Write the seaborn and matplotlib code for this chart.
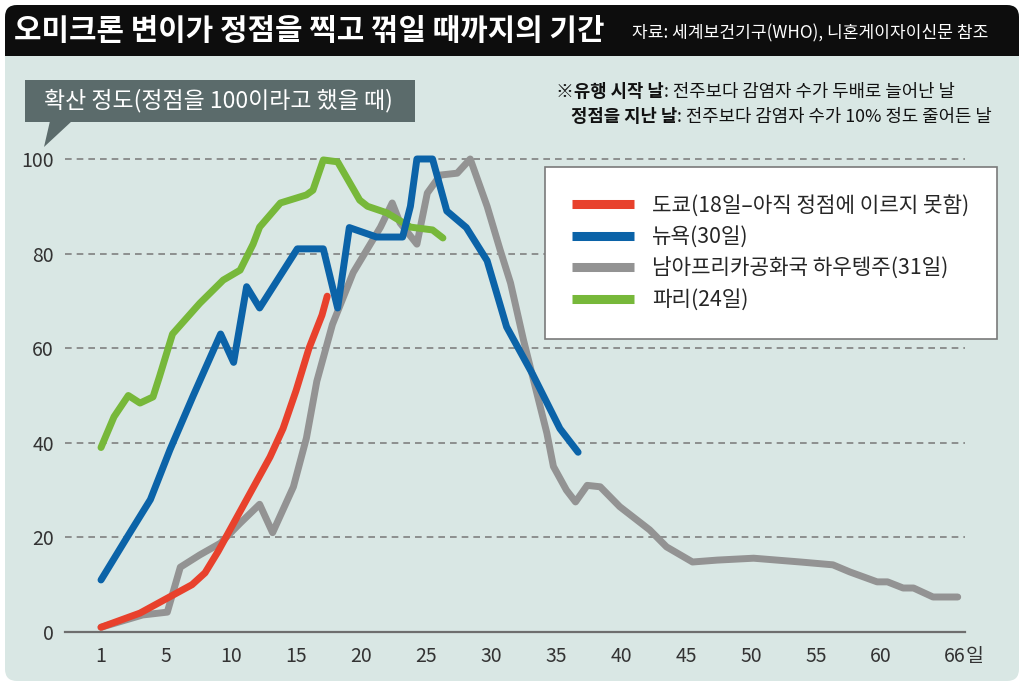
import matplotlib
matplotlib.use("Agg")
import matplotlib.pyplot as plt
from matplotlib.patches import FancyBboxPatch, Rectangle, Polygon
import pandas as pd
import seaborn as sns

# --- data (x = days since start, label "1" at 0) ---
tokyo_x = [0, 1, 2, 3, 4, 5, 6, 7, 8, 9, 10, 11, 12, 13, 14, 15, 16, 17, 17.4]
tokyo_y = [1, 2, 3, 4, 5.5, 7, 8.5, 10, 12.5, 17, 22, 27, 32, 37, 43, 51, 60, 67, 71]

ny_x = [0, 2, 3.8, 5.3, 7.1, 9.2, 10.2, 11.2, 12.2, 15.1, 17.1, 18.2, 19.1, 21.2,
        23.2, 23.8, 24.3, 25.5, 26.6, 28.1, 29.7, 31.2, 33.2, 35.3, 36.7]
ny_y = [11, 20, 28, 38.5, 50, 63, 57, 73, 68.5, 81, 81, 68.5, 85.5, 83.5,
        83.5, 90, 100, 100, 89, 85.5, 78.5, 64.5, 54.5, 43, 38]

sa_x = [0, 3.2, 5.1, 6.1, 7.6, 9.2, 10.7, 12.2, 13.2, 14.8, 15.8, 16.6, 17.8, 19.4,
        21.5, 22.4, 23, 24.3, 25.1, 26.1, 27.4, 28.4, 29.7, 30.7, 31.5, 32.5, 34.3,
        34.8, 35.8, 36.5, 37.4, 38.4, 39.9, 42.2, 43.5, 45.5, 47.4, 50.2, 53.8, 56.3,
        57.6, 59.7, 60.5, 61.7, 62.5, 64, 65.9]
sa_y = [1, 3.6, 4.2, 13.7, 16.3, 18.8, 23, 27, 21, 30.7, 41, 53, 65, 76,
        85.6, 90.7, 86.5, 82, 92.8, 96.6, 97, 100, 90, 80.8, 73.8, 61.7, 42,
        35, 30, 27.5, 31, 30.7, 26.5, 21.6, 18, 14.8, 15.2, 15.6, 14.8, 14.2,
        12.7, 10.6, 10.6, 9.3, 9.3, 7.4, 7.4]

paris_x = [0, 1, 2.1, 3, 4, 4.5, 5.5, 7.6, 9.4, 10.7, 11.7, 12.2, 13.8, 15.8, 16.3,
           17.1, 18.2, 19.9, 20.5, 22, 23.8, 25.5, 26.3]
paris_y = [39, 45.5, 50, 48.4, 49.7, 54, 63, 69.5, 74.4, 76.5, 82, 85.6, 90.7, 92.4, 93.4,
           99.8, 99.4, 91.3, 90, 88.6, 85.6, 85, 83.3]

labels = ["도쿄(18일–아직 정점에 이르지 못함)", "뉴욕(30일)",
          "남아프리카공화국 하우텡주(31일)", "파리(24일)"]
colors = ["#e8412c", "#0b63a8", "#939393", "#77b83a"]

xtick_pos = [0, 5, 10, 15, 20, 25, 30, 35, 40, 45, 50, 55, 60, 65.7]
xtick_labels = ["1", "5", "10", "15", "20", "25", "30", "35", "40", "45", "50", "55", "60", "66"]
yticks = [0, 20, 40, 60, 80, 100]

df = pd.concat([
    pd.DataFrame({"day": tokyo_x, "value": tokyo_y, "city": labels[0]}),
    pd.DataFrame({"day": ny_x, "value": ny_y, "city": labels[1]}),
    pd.DataFrame({"day": sa_x, "value": sa_y, "city": labels[2]}),
    pd.DataFrame({"day": paris_x, "value": paris_y, "city": labels[3]}),
], ignore_index=True)

sns.set_style("white")
plt.rcParams["font.family"] = ["Noto Sans CJK KR", "DejaVu Sans"]

BG = "#d9e7e4"
W, H = 1024, 686
fig = plt.figure(figsize=(W / 100, H / 100), dpi=100, facecolor="white")


def inch_y(py):
    return (H - py) / 100


# --- frame: light body + black header (inch coords) ---
fig.add_artist(FancyBboxPatch((0.05, inch_y(681)), 10.14, (681 - 5) / 100,
                              boxstyle="round,pad=0,rounding_size=0.12",
                              transform=fig.dpi_scale_trans, facecolor=BG,
                              edgecolor="none", zorder=-3))
fig.add_artist(FancyBboxPatch((0.05, inch_y(56)), 10.14, 0.51,
                              boxstyle="round,pad=0,rounding_size=0.12",
                              transform=fig.dpi_scale_trans, facecolor="#0d0d0d",
                              edgecolor="none", zorder=-2))
fig.add_artist(Rectangle((0.05, inch_y(56)), 10.14, 0.2, transform=fig.dpi_scale_trans,
                         facecolor="#0d0d0d", edgecolor="none", zorder=-2))

fig.text(14 / W, 1 - 31 / H, "오미크론 변이가 정점을 찍고 꺾일 때까지의 기간",
         color="white", fontsize=21.5, fontweight="bold", va="center", ha="left")
fig.text(632 / W, 1 - 33 / H, "자료: 세계보건기구(WHO), 니혼게이자이신문 참조",
         color="white", fontsize=12.3, va="center", ha="left")

# --- callout box for y-axis meaning ---
fig.add_artist(Rectangle((0.25, inch_y(122)), 3.9, 0.42, transform=fig.dpi_scale_trans,
                         facecolor="#5b6b6b", edgecolor="none", zorder=-1))
fig.add_artist(Polygon([(0.50, inch_y(121)), (0.72, inch_y(121)), (0.44, inch_y(147))],
                       closed=True, transform=fig.dpi_scale_trans,
                       facecolor="#5b6b6b", edgecolor="none", zorder=-1))
fig.text(218 / W, 1 - 101 / H, "확산 정도(정점을 100이라고 했을 때)",
         color="white", fontsize=16.5, va="center", ha="center")

# --- notes at top right (bold heading + regular text) ---
t1 = fig.text(556 / W, 1 - 92 / H, "※유행 시작 날", fontsize=12.8, fontweight="bold",
              va="center", ha="left", color="#111")
fig.add_artist(plt.Annotation(": 전주보다 감염자 수가 두배로 늘어난 날", xy=(1, 0.5), xycoords=t1,
                              va="center", ha="left", fontsize=12.8, color="#111"))
t2 = fig.text(571 / W, 1 - 117 / H, "정점을 지난 날", fontsize=12.8, fontweight="bold",
              va="center", ha="left", color="#111")
fig.add_artist(plt.Annotation(": 전주보다 감염자 수가 10% 정도 줄어든 날", xy=(1, 0.5), xycoords=t2,
                              va="center", ha="left", fontsize=12.8, color="#111"))

# --- main axes ---
ax = fig.add_axes([65 / W, 1 - 632 / H, 900 / W, 482 / H])
ax.set_facecolor("none")
sns.lineplot(data=df, x="day", y="value", hue="city", hue_order=labels,
             palette=dict(zip(labels, colors)), sort=False, estimator=None,
             linewidth=5, solid_capstyle="round", solid_joinstyle="round", ax=ax)

zorders = [4, 5, 2, 3]
for line, z in zip(ax.get_lines(), zorders):
    line.set_zorder(z)

ax.set_xlim(-2.77, 66.46)
ax.set_ylim(0, 101.9)
ax.set_xlabel("")
ax.set_ylabel("")

for y in yticks[1:]:
    ax.axhline(y, color="#808080", lw=1.2, ls=(0, (4, 3)), zorder=1)

for s in ["top", "right", "left"]:
    ax.spines[s].set_visible(False)
ax.spines["bottom"].set_color("#6e6e6e")
ax.spines["bottom"].set_linewidth(1.6)

ax.set_xticks(xtick_pos)
ax.set_xticklabels(xtick_labels)
ax.set_yticks(yticks)
ax.tick_params(axis="x", length=6, width=1.4, color="#6e6e6e", labelsize=14,
               labelcolor="#333333", pad=4, direction="out")
ax.tick_params(axis="y", length=0, labelsize=14, labelcolor="#333333", pad=8)
ax.text(66.5, -0.05, "일", transform=ax.get_xaxis_transform(), fontsize=14,
        color="#333333", ha="left", va="center")

handles, labs = ax.get_legend_handles_labels()
leg = ax.legend(handles, labs, loc="upper left", bbox_to_anchor=(0.533, 0.965),
                borderaxespad=0, fontsize=15.3, frameon=True, fancybox=False,
                facecolor="white", framealpha=1, edgecolor="#7a7a7a",
                handlelength=2.9, handletextpad=0.85, labelspacing=0.45,
                borderpad=1.3)
leg.get_frame().set_linewidth(1.2)
for lh in leg.get_lines():
    lh.set_linewidth(6.5)
    lh.set_solid_capstyle("butt")
leg.set_zorder(10)

fig.savefig("out.png", dpi=100, facecolor="white")
